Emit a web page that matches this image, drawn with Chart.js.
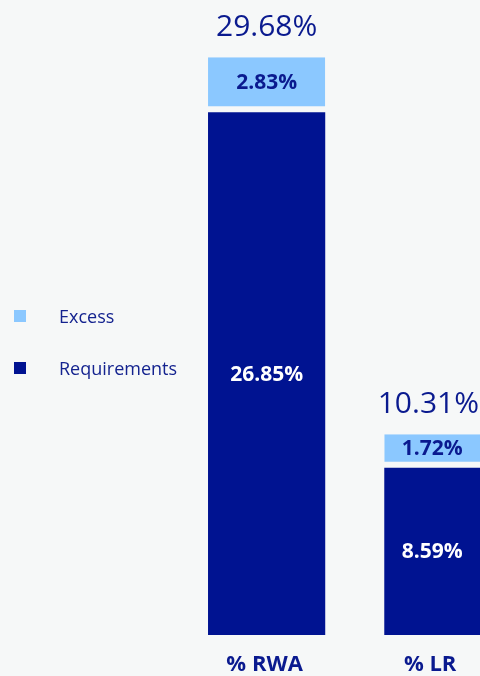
<!DOCTYPE html>
<html>
<head>
<meta charset="utf-8">
<script src="https://cdn.jsdelivr.net/npm/chart.js@4"></script>
<style>
    html, body {
        margin: 0;
        padding: 0;
        background: #f6f8f8;
    }
    #wrap {
        position: relative;
        width: 480px;
        height: 676px;
        overflow: hidden;
        background: #f6f8f8;
    }
    #capitalChart {
        position: absolute;
        left: 0;
        top: 0;
    }
    .legend-item {
        position: absolute;
        left: 14px;
        font-family: "Open Sans", sans-serif;
        font-size: 18px;
        color: #14238f;
        line-height: 20px;
        height: 20px;
    }
    .legend-item span.box {
        position: absolute;
        left: 0;
        top: 4px;
        width: 12px;
        height: 12px;
    }
    .legend-item span.txt {
        position: absolute;
        left: 45px;
        white-space: nowrap;
    }
</style>
</head>
<body>
<div id="wrap">
    <canvas id="capitalChart" width="531" height="676"></canvas>
    <div id="legend"></div>
</div>
<script>
// Dane wykresu
const categories = ['% RWA', '% LR'];
const requirements = [26.85, 8.59];
const excess = [2.83, 1.72];
const totals = [29.68, 10.31];

const NAVY = '#001391';
const LIGHT = '#8bc8ff';
const TEXT_NAVY = '#0a1a8f';
const BG = '#f6f8f8';
const VISIBLE_WIDTH = 480;

// Legenda (HTML)
const legendItems = [
    { label: 'Excess', color: LIGHT, top: 306 },
    { label: 'Requirements', color: NAVY, top: 358 }
];
const legendEl = document.getElementById('legend');
legendItems.forEach(item => {
    const div = document.createElement('div');
    div.className = 'legend-item';
    div.style.top = item.top + 'px';
    div.innerHTML = `<span class="box" style="background:${item.color}"></span><span class="txt">${item.label}</span>`;
    legendEl.appendChild(div);
});

// Środek widocznej części słupka
function visibleCenter(bar) {
    const half = bar.width / 2;
    const left = bar.x - half;
    const right = Math.min(bar.x + half, VISIBLE_WIDTH);
    return (left + right) / 2;
}

// Etykiety na słupkach, sumy nad słupkami i podpisy kategorii
const barLabels = {
    id: 'barLabels',
    afterDatasetsDraw(chart) {
        const ctx = chart.ctx;
        ctx.save();
        ctx.textAlign = 'center';
        ctx.textBaseline = 'middle';

        chart.data.datasets.forEach((ds, i) => {
            const meta = chart.getDatasetMeta(i);
            meta.data.forEach((bar, j) => {
                const gap = ds.gapBottom || 0;
                const yMid = (bar.y + bar.base - gap) / 2;
                ctx.font = 'bold 21px "Open Sans", sans-serif';
                ctx.fillStyle = ds.labelColor;
                ctx.fillText(ds.data[j].toFixed(2) + '%', visibleCenter(bar), yMid + 1);
            });
        });

        // sumy
        const topMeta = chart.getDatasetMeta(chart.data.datasets.length - 1);
        topMeta.data.forEach((bar, j) => {
            ctx.font = '500 30px "Open Sans", sans-serif';
            ctx.fillStyle = TEXT_NAVY;
            const text = totals[j].toFixed(2) + '%';
            const w = ctx.measureText(text).width;
            let x = visibleCenter(bar);
            if (x + w / 2 > VISIBLE_WIDTH - 1) x = VISIBLE_WIDTH - 1 - w / 2;
            ctx.fillText(text, x, bar.y - 30);
        });

        // podpisy kategorii pod słupkami
        const baseMeta = chart.getDatasetMeta(0);
        baseMeta.data.forEach((bar, j) => {
            ctx.font = 'bold 22px "Open Sans", sans-serif';
            ctx.fillStyle = TEXT_NAVY;
            ctx.fillText(categories[j], visibleCenter(bar) - 2, chart.chartArea.bottom + 30);
        });
        ctx.restore();
    }
};

const ctx = document.getElementById('capitalChart');
new Chart(ctx, {
    type: 'bar',
    data: {
        labels: categories,
        datasets: [
            {
                label: 'Requirements',
                data: requirements,
                backgroundColor: NAVY,
                borderWidth: 0,
                labelColor: '#ffffff'
            },
            {
                label: 'Excess',
                data: excess,
                backgroundColor: LIGHT,
                borderColor: BG,
                borderWidth: { top: 0, left: 0, right: 0, bottom: 6 },
                borderSkipped: false,
                gapBottom: 6,
                labelColor: TEXT_NAVY
            }
        ]
    },
    options: {
        responsive: false,
        animation: false,
        layout: {
            padding: { left: 178.5, right: 0, top: 51, bottom: 41 }
        },
        datasets: {
            bar: {
                barPercentage: 0.665,
                categoryPercentage: 1
            }
        },
        plugins: {
            legend: { display: false },
            tooltip: { enabled: false }
        },
        scales: {
            x: {
                stacked: true,
                display: false
            },
            y: {
                stacked: true,
                display: false,
                min: 0,
                max: 30
            }
        }
    },
    plugins: [barLabels]
});
</script>
</body>
</html>
